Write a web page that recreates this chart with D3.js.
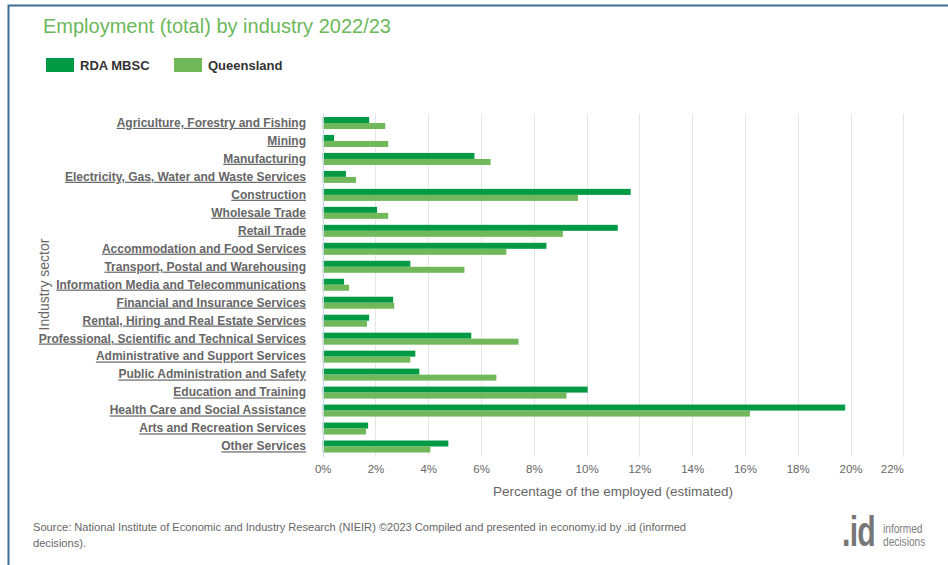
<!DOCTYPE html>
<html>
<head>
<meta charset="utf-8">
<script src="https://cdn.jsdelivr.net/npm/d3@7"></script>
<style>
  html, body { margin: 0; padding: 0; background: #fff; }
  svg { display: block; font-family: Arial, "Liberation Sans", Helvetica, sans-serif; }
</style>
</head>
<body>
<svg id="chart" width="948" height="565"></svg>
<script>
// Industry sectors, top to bottom
const categories = [
  "Agriculture, Forestry and Fishing",
  "Mining",
  "Manufacturing",
  "Electricity, Gas, Water and Waste Services",
  "Construction",
  "Wholesale Trade",
  "Retail Trade",
  "Accommodation and Food Services",
  "Transport, Postal and Warehousing",
  "Information Media and Telecommunications",
  "Financial and Insurance Services",
  "Rental, Hiring and Real Estate Services",
  "Professional, Scientific and Technical Services",
  "Administrative and Support Services",
  "Public Administration and Safety",
  "Education and Training",
  "Health Care and Social Assistance",
  "Arts and Recreation Services",
  "Other Services"
];

// Share of total employment (%), 2022/23
const rdaMbsc = [1.76, 0.43, 5.75, 0.88, 11.67, 2.06, 11.18, 8.48, 3.32, 0.81,
                 2.67, 1.76, 5.63, 3.51, 3.66, 10.04, 19.80, 1.72, 4.76];
const queensland = [2.37, 2.48, 6.36, 1.26, 9.67, 2.48, 9.10, 6.96, 5.37, 1.00,
                    2.71, 1.68, 7.42, 3.32, 6.58, 9.24, 16.19, 1.64, 4.08];

const seriesNames = ["RDA MBSC", "Queensland"];
const xTicks = [0, 2, 4, 6, 8, 10, 12, 14, 16, 18, 20, 22];

const colors = { "RDA MBSC": "#009a44", "Queensland": "#70b85a" };

const svg = d3.select("#chart");

// outer frame
svg.append("path")
  .attr("d", "M8.5,565 L8.5,5.5 L948,5.5")
  .attr("fill", "none")
  .attr("stroke", "#3b6f93")
  .attr("stroke-width", 2);

// title
svg.append("text")
  .attr("x", 43).attr("y", 33)
  .attr("font-size", 20)
  .attr("fill", "#6cb85a")
  .text("Employment (total) by industry 2022/23");

// legend
const legend = svg.append("g");
const legendX = [46, 174];
seriesNames.forEach((name, i) => {
  legend.append("rect")
    .attr("x", legendX[i]).attr("y", 58)
    .attr("width", 28).attr("height", 14)
    .attr("fill", colors[name]);
  legend.append("text")
    .attr("x", legendX[i] + 34).attr("y", 70)
    .attr("font-size", 13).attr("font-weight", "bold")
    .attr("fill", "#333")
    .text(name);
});

// scales
const x = d3.scaleLinear().domain([0, 22]).range([322.7, 903.3]);
const y = d3.scaleBand().domain(categories).range([114, 455.5]).paddingInner(0).paddingOuter(0);
const sub = d3.scaleBand().domain(seriesNames).range([y.bandwidth() / 2 - 6, y.bandwidth() / 2 + 6]);

const plotTop = 114, plotBottom = 457;

// vertical gridlines
svg.append("g")
  .selectAll("line")
  .data(xTicks.slice(1))
  .join("line")
  .attr("x1", d => Math.round(x(d)) + 0.5).attr("x2", d => Math.round(x(d)) + 0.5)
  .attr("y1", plotTop).attr("y2", plotBottom)
  .attr("stroke", "#e6e6e6").attr("stroke-width", 1);

// x tick labels
const xAxis = d3.axisBottom(x).tickValues(xTicks).tickFormat(d => d + "%").tickSize(0).tickPadding(0);
const gx = svg.append("g").attr("transform", `translate(0, ${plotBottom + 8})`).call(xAxis);
gx.select(".domain").remove();
gx.selectAll("text")
  .attr("font-size", 11.5)
  .attr("font-family", "Arial, 'Liberation Sans', sans-serif")
  .attr("fill", "#666")
  .attr("dy", "0.71em");
// last label pulled inside the plot edge
gx.selectAll(".tick").filter(d => d === 22).select("text").attr("text-anchor", "end").attr("x", 0);

// bars
const rows = categories.map((c, i) => ({ cat: c, vals: [rdaMbsc[i], queensland[i]] }));
const groups = svg.append("g")
  .selectAll("g")
  .data(rows)
  .join("g")
  .attr("transform", d => `translate(0, ${y(d.cat)})`);

groups.selectAll("rect")
  .data(d => d.vals.map((v, j) => ({ series: seriesNames[j], value: v })))
  .join("rect")
  .attr("x", x(0))
  .attr("y", d => sub(d.series))
  .attr("width", d => x(d.value) - x(0))
  .attr("height", sub.bandwidth())
  .attr("fill", d => colors[d.series]);

// zero axis line
svg.append("line")
  .attr("x1", Math.round(x(0)) + 0.5).attr("x2", Math.round(x(0)) + 0.5)
  .attr("y1", plotTop).attr("y2", plotBottom)
  .attr("stroke", "#ccd6eb").attr("stroke-width", 1);

// category labels
const yAxis = d3.axisLeft(y).tickSize(0).tickPadding(0);
const gy = svg.append("g").attr("transform", "translate(306, 0)").call(yAxis);
gy.select(".domain").remove();
gy.selectAll("text")
  .attr("font-size", 12)
  .attr("font-weight", "bold")
  .attr("font-family", "Arial, 'Liberation Sans', sans-serif")
  .attr("fill", "#666")
  .attr("text-decoration", "underline");

// axis titles
svg.append("text")
  .attr("transform", `translate(49, ${(plotTop + plotBottom) / 2 - 1}) rotate(-90)`)
  .attr("text-anchor", "middle")
  .attr("font-size", 14)
  .attr("fill", "#666")
  .text("Industry sector");

svg.append("text")
  .attr("x", (x(0) + x(22)) / 2).attr("y", 496)
  .attr("text-anchor", "middle")
  .attr("font-size", 13.5)
  .attr("fill", "#666")
  .text("Percentage of the employed (estimated)");

// source note
const src = svg.append("text")
  .attr("x", 33).attr("y", 531)
  .attr("font-size", 11.1)
  .attr("fill", "#666");
src.append("tspan").attr("x", 33).text("Source: National Institute of Economic and Industry Research (NIEIR) \u00a92023 Compiled and presented in economy.id by .id (informed");
src.append("tspan").attr("x", 33).attr("dy", 16).text("decisions).");

// logo: condensed by horizontal scaling
const logo = svg.append("g");
logo.append("text")
  .attr("transform", "translate(842, 546) scale(0.72, 1)")
  .attr("font-size", 42).attr("font-weight", "bold")
  .attr("letter-spacing", -1)
  .attr("fill", "#777")
  .text(".id");
logo.append("text")
  .attr("transform", "translate(883, 532.5) scale(0.78, 1)")
  .attr("font-size", 13)
  .attr("fill", "#7d7d7d")
  .text("informed");
logo.append("text")
  .attr("transform", "translate(883, 546) scale(0.78, 1)")
  .attr("font-size", 13)
  .attr("fill", "#7d7d7d")
  .text("decisions");
</script>
</body>
</html>
